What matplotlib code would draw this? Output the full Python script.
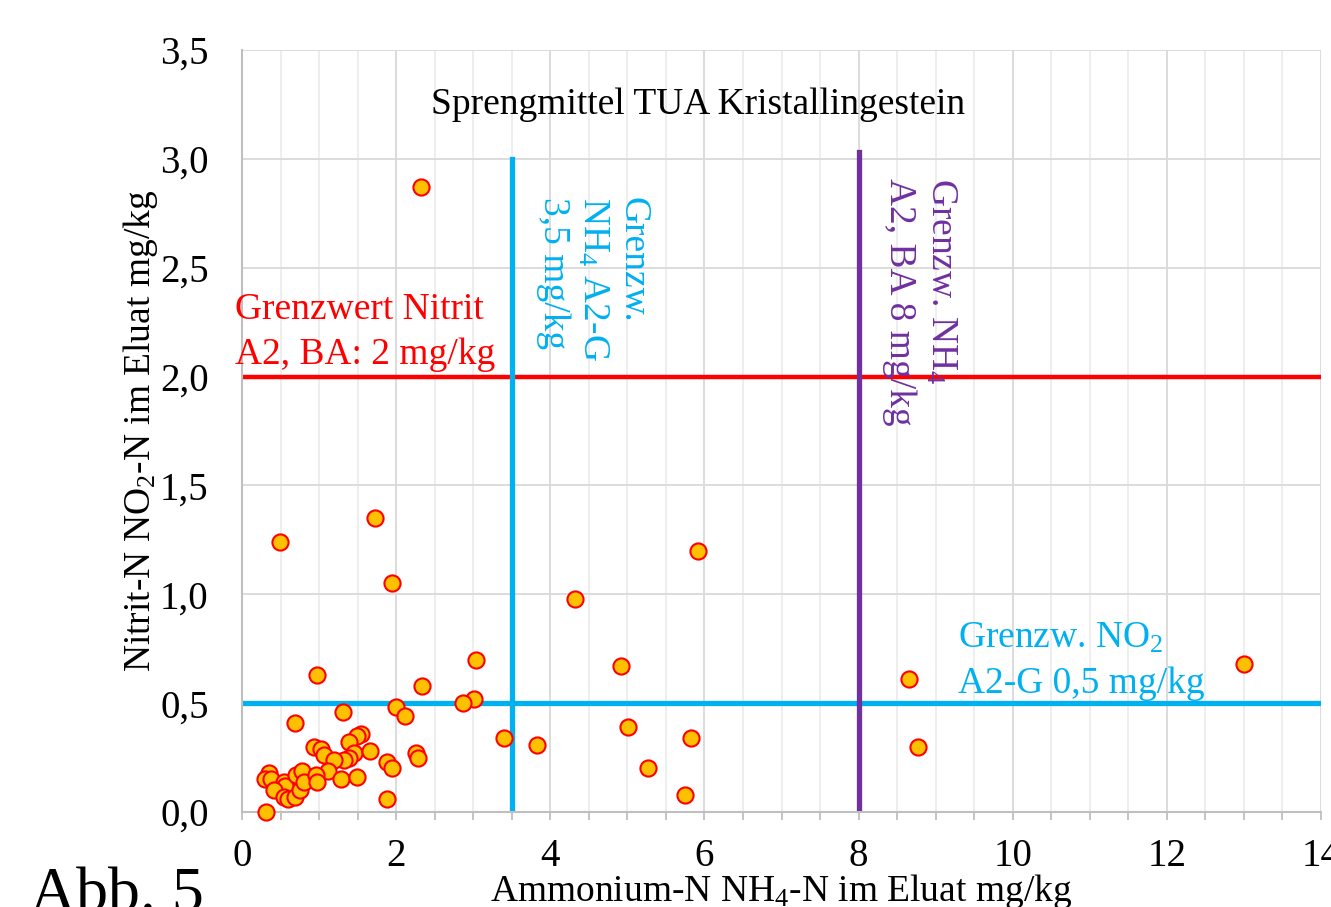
import matplotlib
matplotlib.use("Agg")
import matplotlib.pyplot as plt
from matplotlib.ticker import MultipleLocator, FuncFormatter

plt.rcParams['font.family'] = ['Liberation Serif', 'DejaVu Serif']
plt.rcParams['mathtext.default'] = 'regular'

# Data: Ammonium-N (x) vs Nitrit-N (y), mg/kg
ammonium = [2.32, 0.49, 1.73, 1.95, 5.92, 4.32, 4.92, 3.03, 0.97, 2.34,
            3.01, 2.87, 8.65, 13.0, 8.77, 5.01, 5.83, 5.27, 5.75, 3.40,
            3.83, 2.00, 2.12, 1.31, 0.69, 1.54, 1.49, 1.39, 0.94, 1.03,
            1.06, 1.45, 1.66, 1.39, 1.32, 1.19, 2.26, 2.29, 1.88, 1.94,
            1.12, 1.29, 1.49, 1.88, 0.31, 0.35, 0.30, 0.37, 0.54, 0.56,
            0.41, 0.54, 0.60, 0.69, 0.75, 0.70, 0.78, 0.81, 0.96, 0.97]
nitrit = [2.87, 1.24, 1.35, 1.05, 1.20, 0.98, 0.67, 0.70, 0.63, 0.58,
          0.52, 0.50, 0.61, 0.68, 0.30, 0.39, 0.34, 0.20, 0.08, 0.34,
          0.31, 0.48, 0.44, 0.46, 0.41, 0.36, 0.35, 0.32, 0.30, 0.29,
          0.26, 0.27, 0.28, 0.25, 0.24, 0.24, 0.27, 0.25, 0.23, 0.20,
          0.19, 0.15, 0.16, 0.06, 0.00, 0.18, 0.15, 0.15, 0.14, 0.12,
          0.10, 0.07, 0.06, 0.07, 0.10, 0.17, 0.19, 0.14, 0.17, 0.14]

# Limit values
grenz_nitrit_ba = 2.0
grenz_no2_a2g = 0.5
grenz_nh4_a2g = 3.5
grenz_nh4_ba = 8.0

x_ticks = [0, 2, 4, 6, 8, 10, 12, 14]
y_ticks = [0.0, 0.5, 1.0, 1.5, 2.0, 2.5, 3.0, 3.5]

fig = plt.figure(figsize=(13.31, 9.07), dpi=100)
ax = fig.add_axes([242/1331, 1-812/907, (1321-242)/1331, (812-50)/907])

ax.set_xlim(0, 14)
ax.set_ylim(0, 3.5)
ax.set_xticks(x_ticks)
ax.set_yticks(y_ticks)
ax.xaxis.set_minor_locator(MultipleLocator(0.5))
ax.yaxis.set_major_formatter(FuncFormatter(lambda v, p: f"{v:.1f}".replace('.', ',')))
ax.xaxis.set_major_formatter(FuncFormatter(lambda v, p: f"{int(round(v))}"))

ax.grid(which='major', axis='both', color='#D9D9D9', lw=1.3, zorder=0)
ax.grid(which='minor', axis='x', color='#EDEDED', lw=1.3, zorder=0)
ax.set_axisbelow(True)

for s in ['top', 'right']:
    ax.spines[s].set_visible(False)
for s in ['left', 'bottom']:
    ax.spines[s].set_color('#BFBFBF')
    ax.spines[s].set_linewidth(1.5)

ax.tick_params(axis='x', which='both', length=6, color='#BFBFBF', width=1.3,
               labelsize=28, pad=13)
ax.tick_params(axis='y', which='both', length=0, labelsize=28, pad=24)

# limit lines
ax.plot([0, 14], [grenz_nitrit_ba, grenz_nitrit_ba], color='#FF0000', lw=3.2, zorder=2)
ax.plot([0, 14], [grenz_no2_a2g, grenz_no2_a2g], color='#00B0F0', lw=3.8, zorder=2)
ax.plot([grenz_nh4_a2g, grenz_nh4_a2g], [0, 3.0], color='#00B0F0', lw=3.8, zorder=2)
ax.plot([grenz_nh4_ba, grenz_nh4_ba], [0, 3.03], color='#7030A0', lw=3.8, zorder=2)

ax.scatter(ammonium, nitrit, s=135, facecolor='#FFC000', edgecolor='#FF0000',
           linewidth=1.5, zorder=3, clip_on=False)

# texts
ax.text(5.92, 3.25, "Sprengmittel TUA Kristallingestein", fontsize=27,
        ha='center', va='center', color='black')
ax.text(-0.09, 2.387, "Grenzwert Nitrit\nA2, BA: 2 mg/kg", fontsize=27,
        ha='left', va='top', color='#FF0000', linespacing=1.4)
ax.text(4.55, 2.825, "Grenzw.\nNH$_4$ A2-G\n3,5 mg/kg", fontsize=27,
        ha='center', va='top', rotation=270, color='#00B0F0',
        multialignment='left', linespacing=1.2)
ax.text(8.80, 2.91, "Grenzw. NH$_4$\nA2, BA 8 mg/kg", fontsize=27,
        ha='center', va='top', rotation=270, color='#7030A0',
        multialignment='left', linespacing=1.25)
ax.text(9.29, 0.875, "Grenzw. NO$_2$\nA2-G 0,5 mg/kg", fontsize=27,
        ha='left', va='top', color='#00B0F0', linespacing=1.4)

ax.set_xlabel("Ammonium-N NH$_4$-N im Eluat mg/kg", fontsize=27)
ax.xaxis.set_label_coords(0.5, -(872 - 812) / 762)
ax.set_ylabel("Nitrit-N NO$_2$-N im Eluat mg/kg", fontsize=27)
ax.yaxis.set_label_coords(-(242 - 160) / 1079, 0.5)

fig.text(30/1331, 1-868/907, "Abb. 5", fontsize=46, ha='left', va='top')

fig.savefig("out.png", dpi=100)
